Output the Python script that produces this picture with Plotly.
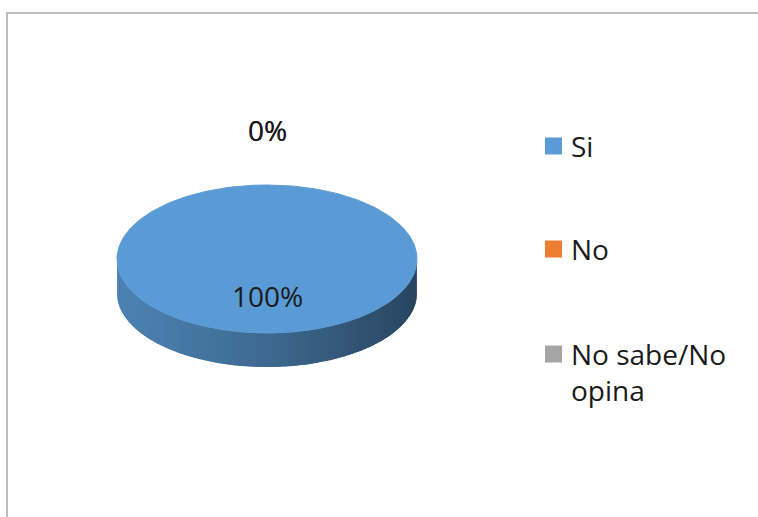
import numpy as np
import plotly.graph_objects as go

# Survey answers
categories = ["Si", "No", "No sabe/No opina"]
values = [100, 0, 0]
legend_labels = ["Si", "No", "No sabe/No<br>opina"]

colors = ["#5B9BD5", "#ED7D31", "#A5A5A5"]

W, H = 758, 517
FONT = "Open Sans"
FS = 28
TXT = "#1a1a1a"

# Tilted pie geometry (pixel units on hidden axes)
cx, cy = 267, 259
rx, ry = 150, 74
depth = 34


def pt(theta, dy=0.0, k=1.0):
    # angle measured clockwise from 12 o'clock
    return cx + k * rx * np.sin(theta), cy - k * ry * np.cos(theta) + dy


def hex_to_rgb(h):
    h = h.lstrip("#")
    return np.array([int(h[i:i + 2], 16) for i in (0, 2, 4)], float)


def side_shade(base, theta):
    # darker towards the right-hand side of the rim
    c = hex_to_rgb(base)
    s = -np.sin(theta)  # +1 on the left, -1 on the right
    f = np.interp(s, [-1, 0, 0.7, 1], [0.45, 0.68, 0.80, 0.84])
    r, g, b = (c * f).clip(0, 255).astype(int)
    return f"rgb({r},{g},{b})"


fig = go.Figure()

total = float(sum(values))
fracs = [v / total for v in values]
starts = np.concatenate([[0], np.cumsum(fracs)[:-1]]) * 2 * np.pi
ends = np.cumsum(fracs) * 2 * np.pi

# rim of each slice (only the front half is visible)
for i, (a0, a1) in enumerate(zip(starts, ends)):
    lo, hi = max(a0, np.pi / 2), min(a1, 3 * np.pi / 2)
    if hi <= lo:
        continue
    n = 90
    edges = np.linspace(lo, hi, n + 1)
    step = edges[1] - edges[0]
    for t0, t1 in zip(edges[:-1], edges[1:]):
        # each strip overlaps the next one a little to hide seams
        ts = np.linspace(t0, min(t1 + 0.8 * step, hi), 4)
        top = [pt(t) for t in ts]
        bot = [pt(t, depth) for t in ts[::-1]]
        xs = [p[0] for p in top + bot]
        ys = [p[1] for p in top + bot]
        col = side_shade(colors[i], (t0 + t1) / 2)
        fig.add_trace(go.Scatter(x=xs + [xs[0]], y=ys + [ys[0]], mode="lines",
                                 fill="toself", fillcolor=col,
                                 line=dict(width=0),
                                 hoverinfo="skip", showlegend=False))

# top faces
for i, (a0, a1) in enumerate(zip(starts, ends)):
    if a1 - a0 <= 0:
        continue
    ts = np.linspace(a0, a1, 240)
    pts = [pt(t) for t in ts]
    if a1 - a0 < 2 * np.pi - 1e-9:
        pts = [(cx, cy)] + pts + [(cx, cy)]
    xs = [p[0] for p in pts]
    ys = [p[1] for p in pts]
    fig.add_trace(go.Scatter(x=xs, y=ys, mode="lines", fill="toself",
                             fillcolor=colors[i], line=dict(color=colors[i], width=1),
                             hoverinfo="skip", showlegend=False,
                             name=categories[i]))

# percentage labels
for i, (a0, a1) in enumerate(zip(starts, ends)):
    mid = (a0 + a1) / 2
    k = 0.5 if values[i] > 0 else 1.74
    x, y = pt(mid, k=k)
    fig.add_annotation(x=x, y=y, xref="x", yref="y", text=f"{values[i]:.0f}%",
                       showarrow=False, font=dict(family=FONT, size=FS, color=TXT))

# legend entries
leg_y = [146, 249, 354]
for lab, col, y in zip(legend_labels, colors, leg_y):
    fig.add_shape(type="rect", xref="x", yref="y", x0=545, x1=562, y0=y - 8.5, y1=y + 8.5,
                  fillcolor=col, line=dict(width=0))
    fig.add_annotation(x=569, y=y - 21, xref="x", yref="y", text=lab, showarrow=False,
                       xanchor="left", yanchor="top", align="left",
                       font=dict(family=FONT, size=FS, color=TXT))

# chart area frame (continues past the right and bottom edges)
frame = dict(color="#BDBDBD", width=2)
fig.add_shape(type="path", xref="paper", yref="paper",
              path=f"M {7 / W},0 L {7 / W},{1 - 13 / H} L 1.05,{1 - 13 / H}",
              line=frame)

fig.update_layout(
    width=W, height=H,
    margin=dict(l=0, r=0, t=0, b=0),
    paper_bgcolor="white", plot_bgcolor="white",
    xaxis=dict(range=[0, W], visible=False, fixedrange=True, showline=False, zeroline=False),
    yaxis=dict(range=[H, 0], visible=False, fixedrange=True, showline=False, zeroline=False),
    showlegend=False,
)

fig.write_html("out.html")
